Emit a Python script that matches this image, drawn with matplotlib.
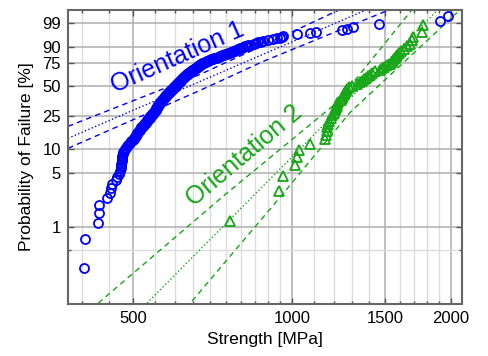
import numpy as np
import matplotlib
matplotlib.use("Agg")
import matplotlib.pyplot as plt
from matplotlib.ticker import FixedLocator, NullFormatter

plt.rcParams['font.family'] = ['Liberation Sans', 'DejaVu Sans']

# strengths [MPa], sorted
strength_1 = [
    404, 405, 428, 430, 431, 446, 451, 453, 455, 463,
    466, 469, 471, 473, 474, 474, 475, 475, 476, 477, 478, 479,
    481, 483, 485, 487, 489, 491, 493, 496, 500,
    501, 502, 504, 505, 507, 508, 509, 511, 512, 514,
    515, 517, 518, 520, 521, 523, 525, 526, 528, 529, 530, 532, 533, 534, 536, 537,
    538, 539, 541, 542, 543, 544, 545, 546, 548, 549,
    550, 551, 552, 552, 553, 554, 555, 555, 556, 557, 558, 558, 559, 560, 561, 562,
    563, 564, 565, 566, 567, 568, 569, 570, 571, 572, 573, 574, 575, 576, 577, 578,
    579, 580, 581, 582, 583, 584, 585, 586, 587, 588, 589, 590, 591, 592, 593, 594, 596,
    597, 598, 599, 600, 601, 602, 603, 604, 605, 606, 607, 608, 609, 610, 611, 612, 613,
    614, 615, 616, 617, 618, 619, 620, 621, 622, 623, 624, 625, 626, 627, 628, 629, 631,
    632, 634, 635, 637, 638, 640, 641, 643, 644, 646, 647, 649, 650, 652, 653,
    654, 656, 657, 659, 660, 662, 663, 665, 666, 668, 669,
    671, 674, 676, 679, 681, 684, 686, 689, 691, 694, 696, 699,
    703, 707, 711, 715, 719, 723, 727, 730,
    734, 738, 743, 747, 752, 756, 761, 765, 770,
    774, 778, 782, 786, 790, 794, 798, 803, 808, 814, 820, 826,
    835, 845, 854, 863, 872, 882, 902, 922, 936, 949, 956, 963,
    1023, 1079, 1110, 1242, 1273, 1304, 1460, 1910, 1972,
]

strength_2 = [
    763, 945, 963, 1013, 1021, 1031, 1082, 1155, 1159, 1162,
    1165, 1170, 1177, 1184, 1190, 1200, 1206, 1211, 1215, 1219,
    1223, 1240, 1246, 1251, 1256, 1260, 1263, 1268, 1280, 1300,
    1330, 1346, 1356, 1368, 1380, 1392, 1405, 1420, 1436, 1465,
    1480, 1495, 1510, 1530, 1545, 1555, 1565, 1575, 1582, 1591,
    1610, 1630, 1650, 1670, 1686, 1698, 1762, 1767,
]

# fit lines and confidence bounds: strength [MPa] / probability [%]
fit1_s = [376, 1388]
fit1_p = [13.56, 99.91]
bndA1_s = [376, 669, 881, 1233]
bndA1_p = [18.85, 63.0, 90.7, 99.91]
bndB1_s = [376, 669, 881, 1534]
bndB1_p = [10.23, 45.97, 77.0, 99.91]

fit2_s = [531, 1892]
fit2_p = [0.103, 99.91]
bndA2_s = [429, 740, 1217, 1689]
bndA2_p = [0.1026, 2.52, 34.9, 99.91]
bndB2_s = [646, 949, 1288, 2055]
bndB2_p = [0.109, 2.45, 27.2, 99.83]

ytick_vals = [1, 5, 10, 25, 50, 75, 90, 99]
xtick_vals = [500, 1000, 1500, 2000]
xminor = [400, 450, 550, 600, 650, 700, 750, 800, 850, 900, 950,
          1100, 1200, 1300, 1400, 1600, 1700, 1800, 1900]

blue = '#0000ff'
green = '#16a616'


def median_rank(n):
    i = np.arange(1, n + 1)
    return 100 * (i - 0.3) / (n + 0.4)


def fwd(p):
    p = np.clip(np.asarray(p, dtype=float), 1e-9, 100 - 1e-9)
    return np.log(-np.log(1 - p / 100))


def inv(t):
    return 100 * (1 - np.exp(-np.exp(t)))


fig = plt.figure(figsize=(4.89, 3.56), dpi=100)
ax = fig.add_axes([0.139, 0.146, 0.806, 0.826])
ax.set_xscale('log')
ax.set_yscale('function', functions=(fwd, inv))

# lines
ax.plot(fit1_s, fit1_p, ':', color=blue, lw=1)
ax.plot(bndA1_s, bndA1_p, '--', color=blue, lw=1, dashes=(4, 3))
ax.plot(bndB1_s, bndB1_p, '--', color=blue, lw=1, dashes=(4, 3))
ax.plot(fit2_s, fit2_p, ':', color=green, lw=1)
ax.plot(bndA2_s, bndA2_p, '--', color=green, lw=1, dashes=(4, 3))
ax.plot(bndB2_s, bndB2_p, '--', color=green, lw=1, dashes=(4, 3))

# data
ax.plot(strength_1, median_rank(len(strength_1)), 'o', mfc='none', mec=blue,
        ms=6.5, mew=1.3)
ax.plot(strength_2, median_rank(len(strength_2)), '^', mfc='none', mec=green,
        ms=7, mew=1.3)

ax.set_xlim(376, 2100)
ax.set_ylim(0.1, 99.9)

ax.set_xticks(xtick_vals)
ax.set_xticklabels([str(v) for v in xtick_vals])
ax.xaxis.set_minor_locator(FixedLocator(xminor))
ax.xaxis.set_minor_formatter(NullFormatter())
ax.set_yticks(ytick_vals)
ax.set_yticklabels([str(v) for v in ytick_vals])
ax.yaxis.set_minor_locator(FixedLocator([0.5]))
ax.yaxis.set_minor_formatter(NullFormatter())

ax.grid(True, which='major', color='#b4b4b4', lw=1.2)
ax.grid(True, which='minor', color='#dcdcdc', lw=1.0)
ax.set_axisbelow(True)

ax.tick_params(which='major', direction='in', top=True, right=True, length=4,
               width=1, color='#555555', labelsize=12, pad=5)
ax.tick_params(which='minor', direction='in', top=True, right=True, length=2.5,
               width=1, color='#555555')
for sp in ax.spines.values():
    sp.set_color('#666666')
    sp.set_linewidth(1.5)

ax.set_xlabel('Strength [MPa]', fontsize=12.5)
ax.set_ylabel('Probability of Failure [%]', fontsize=12.5, labelpad=6)

ax.text(0.278, 0.838, 'Orientation 1', transform=ax.transAxes, rotation=24,
        rotation_mode='anchor', ha='center', va='center', color=blue, fontsize=18)
ax.text(0.447, 0.505, 'Orientation 2', transform=ax.transAxes, rotation=40,
        rotation_mode='anchor', ha='center', va='center', color=green, fontsize=18)

fig.savefig('out.png', dpi=100)
